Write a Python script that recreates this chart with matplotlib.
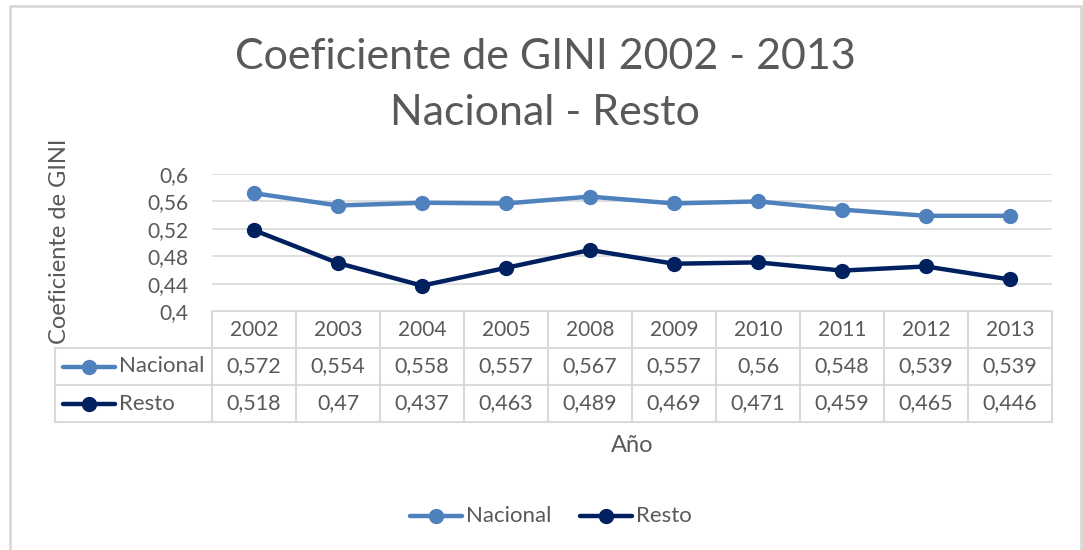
import matplotlib.pyplot as plt

plt.rcParams['font.family'] = ['Lato', 'DejaVu Sans']

years = ['2002', '2003', '2004', '2005', '2008', '2009', '2010', '2011', '2012', '2013']
nacional = [0.572, 0.554, 0.558, 0.557, 0.567, 0.557, 0.56, 0.548, 0.539, 0.539]
resto = [0.518, 0.47, 0.437, 0.463, 0.489, 0.469, 0.471, 0.459, 0.465, 0.446]
series_names = ['Nacional', 'Resto']
colors = ['#4F81BD', '#002060']
yticks = [0.4, 0.44, 0.48, 0.52, 0.56, 0.6]

W, H = 1083, 550
fig = plt.figure(figsize=(W / 100, H / 100), dpi=100)
txt = '#595959'
grid = '#D9D9D9'

# plot area in pixels
px0, px1 = 212, 1052
py0, py1 = 174, 311
ax = fig.add_axes([px0 / W, 1 - py1 / H, (px1 - px0) / W, (py1 - py0) / H])
x = list(range(len(years)))
for vals, c in zip([nacional, resto], colors):
    ax.plot(x, vals, color=c, lw=3.2, marker='o', ms=10, zorder=3)
ax.set_xlim(-0.5, len(years) - 0.5)
ax.set_ylim(0.4, 0.6)
ax.set_yticks(yticks)
ax.set_yticklabels([f'{t:g}'.replace('.', ',') for t in yticks], fontsize=15, color=txt)
ax.set_xticks([])
ax.tick_params(axis='y', length=0, pad=17)
for t in yticks:
    ax.axhline(t, color=grid, lw=1.2, zorder=1)
for s in ax.spines.values():
    s.set_visible(False)

# overlay in pixel coordinates
ov = fig.add_axes([0, 0, 1, 1], zorder=-1)
ov.set_xlim(0, W)
ov.set_ylim(H, 0)
ov.axis('off')
ov.plot([10, 10, 1081, 1081], [H + 5, 6, 6, H + 5], color=grid, lw=2)

# data table
cw = (px1 - px0) / len(years)
rows = [311, 348, 385, 422]
lx = 55
ov.plot([px0, px1], [rows[0], rows[0]], color=grid, lw=1.5)
for r in rows[1:]:
    ov.plot([lx, px1], [r, r], color=grid, lw=1.5)
for i in range(len(years) + 1):
    xx = px0 + i * cw
    ov.plot([xx, xx], [rows[0], rows[3]], color=grid, lw=1.5)
ov.plot([lx, lx], [rows[1], rows[3]], color=grid, lw=1.5)

for i, yr in enumerate(years):
    cx = px0 + (i + 0.5) * cw
    ov.text(cx, (rows[0] + rows[1]) / 2, yr, ha='center', va='center', fontsize=15, color=txt)
    for j, vals in enumerate([nacional, resto]):
        s = f'{vals[i]:g}'.replace('.', ',')
        ov.text(cx, (rows[j + 1] + rows[j + 2]) / 2, s, ha='center', va='center',
                fontsize=15.5, color=txt)

for j, (name, c) in enumerate(zip(series_names, colors)):
    cy = (rows[j + 1] + rows[j + 2]) / 2
    ov.plot([63, 115], [cy, cy], color=c, lw=3.2, solid_capstyle='round')
    ov.plot([89], [cy], marker='o', ms=10, color=c)
    ov.text(119, cy, name, ha='left', va='center', fontsize=16, color=txt)

# titles
ov.text(545, 57, 'Coeficiente de GINI 2002 - 2013', ha='center', va='center',
        fontsize=31, color=txt)
ov.text(545, 113, 'Nacional - Resto', ha='center', va='center', fontsize=31, color=txt)
ov.text(632, 446, 'Año', ha='center', va='center', fontsize=17, color=txt)
ov.text(60, 241, 'Coeficiente de GINI', ha='center', va='center', rotation=90,
        fontsize=17, color=txt)

# legend
for (x0, name, c) in [(410, 'Nacional', colors[0]), (580, 'Resto', colors[1])]:
    ov.plot([x0, x0 + 52], [516, 516], color=c, lw=3.2, solid_capstyle='round')
    ov.plot([x0 + 26], [516], marker='o', ms=10, color=c)
    ov.text(x0 + 56, 516, name, ha='left', va='center', fontsize=16, color=txt)

fig.savefig('out.png', dpi=100)
